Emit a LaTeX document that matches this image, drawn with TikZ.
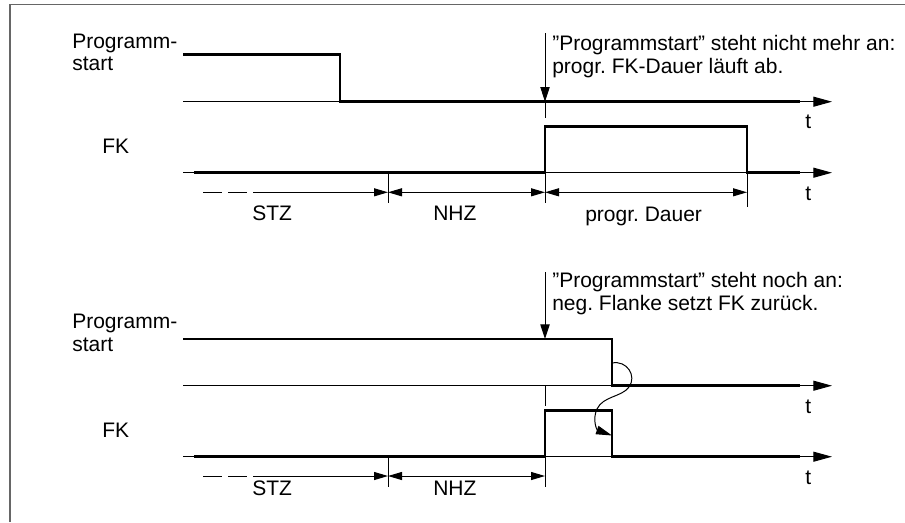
\documentclass[tikz,border=0pt]{standalone}
\usepackage{fontspec}
\setmainfont{Liberation Sans}
\usetikzlibrary{arrows.meta}
\begin{document}
\frenchspacing
\begin{tikzpicture}[x=0.75pt,y=-0.75pt,
  lbl/.style={font=\fontsize{15.75}{18}\selectfont, inner sep=0pt, anchor=base west},
  sig/.style={line width=2pt, line join=miter},
  thinln/.style={line width=0.75pt},
  axis/.style={line width=0.75pt, -{Triangle[length=14pt,width=7.5pt]}},
  dtip/.style={line width=0.75pt},
  dtr/.style={dtip, -{Triangle[length=10.5pt,width=6pt]}},
  dtlr/.style={dtip, {Triangle[length=10.5pt,width=6pt]}-{Triangle[length=10.5pt,width=6pt]}},
  vtip/.style={line width=0.75pt, -{Triangle[length=11pt,width=7pt]}},
  frame/.style={line width=1.4pt, draw=black!60}]
\useasboundingbox (0,0) rectangle (905,522);
% frame
\draw[frame] (10,522) -- (10,4.5) -- (905,4.5);

% ---------------- top diagram ----------------
\node[lbl] (p1a) at (72,48) {Programm-};
\node[lbl] (p1b) at (72,70.5) {start};
\node[lbl] (fk1) at (102,153) {FK};
\node[lbl] (t1a) at (805,128) {t};
\node[lbl] (t1b) at (805,200) {t};
\node[lbl] (n1a) at (552,50) {”Programmstart” steht nicht mehr an:};
\node[lbl] (n1b) at (552,73) {progr. FK-Dauer läuft ab.};
\node[lbl] (stz1) at (252,220) {STZ};
\node[lbl] (nhz1) at (433,220) {NHZ};
\node[lbl] (pd1) at (585,221) {progr. Dauer};

\draw[axis] (183,101.7) -- (832,101.7);
\draw[sig] (183,54.5) -- (340,54.5) -- (340,101.7) -- (800,101.7);
\draw[axis] (183,172.7) -- (832,172.7);
\draw[sig] (194,172.7) -- (545,172.7) -- (545,126.7) -- (747,126.7) -- (747,172.7) -- (800,172.7);
\draw[vtip] (545,33) -- (545,101.7);
\draw[thinln] (545,101.7) -- (545,118);
\draw[thinln] (388,172.7) -- (388,203);
\draw[thinln] (545,172.7) -- (545,203);
\draw[thinln] (747,172.7) -- (747,207);
\draw[thinln] (203,192.3) -- (222,192.3);
\draw[thinln] (228,192.3) -- (247,192.3);
\draw[dtr] (253,192.3) -- (388,192.3);
\draw[dtlr] (388,192.3) -- (545,192.3);
\draw[dtlr] (545,192.3) -- (747,192.3);

% ---------------- bottom diagram ----------------
\node[lbl] (p2a) at (72,328) {Programm-};
\node[lbl] (p2b) at (72,351) {start};
\node[lbl] (fk2) at (102,437) {FK};
\node[lbl] (t2a) at (805,413) {t};
\node[lbl] (t2b) at (805,484) {t};
\node[lbl] (n2a) at (552,287) {”Programmstart” steht noch an:};
\node[lbl] (n2b) at (552,310) {neg. Flanke setzt FK zurück.};
\node[lbl] (stz2) at (252,495) {STZ};
\node[lbl] (nhz2) at (433,495) {NHZ};

\draw[axis] (183,385.7) -- (832,385.7);
\draw[sig] (183,339) -- (612,339) -- (612,385.7) -- (800,385.7);
\draw[axis] (183,456.7) -- (832,456.7);
\draw[sig] (194,456.7) -- (545,456.7) -- (545,410.7) -- (612,410.7) -- (612,456.7) -- (800,456.7);
\draw[vtip] (545,272) -- (545,339);
\draw[thinln] (545,386) -- (545,406);
\draw[thinln] (388,456.7) -- (388,487);
\draw[thinln] (545,456.7) -- (545,487);
\draw[thinln] (203,476) -- (222,476);
\draw[thinln] (228,476) -- (247,476);
\draw[dtr] (253,476) -- (388,476);
\draw[dtlr] (388,476) -- (545,476);

% curved arrow
\coordinate (c1) at (612,363);
\coordinate (c2) at (612,435.5);
\draw[line width=0.75pt, -{Triangle[length=12pt,width=6.5pt]}]
  (c1) .. controls (627,360) and (637,376) .. (629,387)
       .. controls (622,397) and (603,396) .. (597,409)
       .. controls (592,420) and (597,430) .. (c2);
\end{tikzpicture}
\end{document}
